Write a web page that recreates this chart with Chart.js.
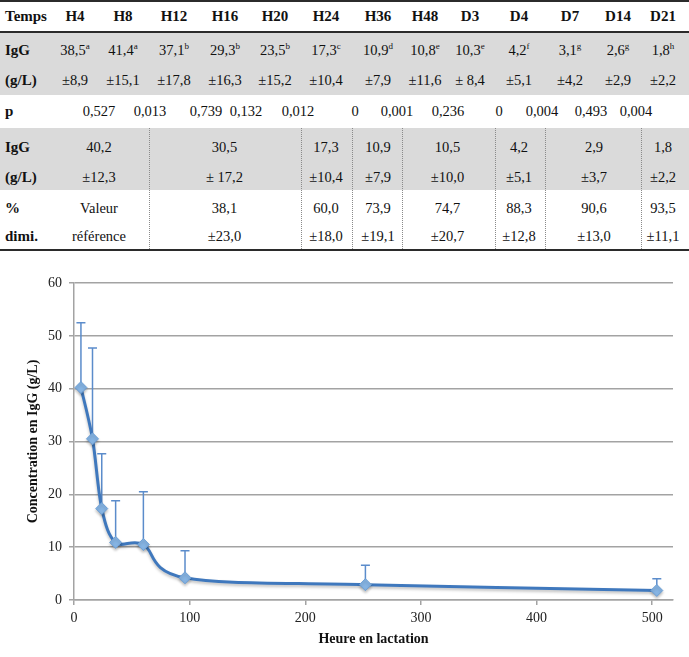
<!DOCTYPE html>
<html>
<head>
<meta charset="utf-8">
<script src="https://cdn.jsdelivr.net/npm/chart.js@4/dist/chart.umd.min.js"></script>
<style>
  body { margin: 0; background: #fff; }
  #page { position: relative; width: 689px; height: 657px; overflow: hidden; }
  #table { position: absolute; left: 0; top: 0; width: 689px; height: 255px;
           font-family: "Liberation Serif", serif; font-size: 15px; color: #111; }
  .cell { position: absolute; width: 90px; text-align: center; line-height: 18px; white-space: nowrap; font-size: 14.5px; }
  .lab { position: absolute; left: 5px; font-weight: bold; line-height: 18px; }
  .band { position: absolute; left: 0; width: 689px; background: #dadada; }
  .rule { position: absolute; left: 0; width: 689px; background: #2b2b2b; }
  .dots { position: absolute; width: 0; border-left: 1px dotted #8a8a8a; }
  sup { font-size: 9px; line-height: 0; }
  #chartBox { position: absolute; left: 0; top: 262px; width: 689px; height: 395px; }
</style>
</head>
<body>
<div id="page">
  <div id="table"></div>
  <div id="chartBox"><canvas id="myChart"></canvas></div>
</div>
<script>
// table block
const times = ['H4', 'H8', 'H12', 'H16', 'H20', 'H24', 'H36', 'H48', 'D3', 'D4', 'D7', 'D14', 'D21'];
const iggMean = ['38,5', '41,4', '37,1', '29,3', '23,5', '17,3', '10,9', '10,8', '10,3', '4,2', '3,1', '2,6', '1,8'];
const iggLetters = ['a', 'a', 'b', 'b', 'b', 'c', 'd', 'e', 'e', 'f', 'g', 'g', 'h'];
const iggSd = ['±8,9', '±15,1', '±17,8', '±16,3', '±15,2', '±10,4', '±7,9', '±11,6', '± 8,4', '±5,1', '±4,2', '±2,9', '±2,2'];
const pValues = ['0,527', '0,013', '0,739', '0,132', '0,012', '0', '0,001', '0,236', '0', '0,004', '0,493', '0,004'];

// grouped rows (first and last column index of each group)
const groupSpan = [[0, 1], [2, 4], [5, 5], [6, 6], [7, 8], [9, 9], [10, 11], [12, 12]];
const groupMean = ['40,2', '30,5', '17,3', '10,9', '10,5', '4,2', '2,9', '1,8'];
const groupSd = ['±12,3', '± 17,2', '±10,4', '±7,9', '±10,0', '±5,1', '±3,7', '±2,2'];
const groupDrop = ['Valeur', '38,1', '60,0', '73,9', '74,7', '88,3', '90,6', '93,5'];
const groupDropSd = ['référence', '±23,0', '±18,0', '±19,1', '±20,7', '±12,8', '±13,0', '±11,1'];

// chart block
const hours = [6, 16, 24, 36, 60, 96, 252, 504];
const meanIgG = [40.2, 30.5, 17.3, 10.9, 10.5, 4.2, 2.9, 1.8];
const sdIgG = [12.3, 17.2, 10.4, 7.9, 10.0, 5.1, 3.7, 2.2];

const colX = [75, 123, 174, 225, 275, 326, 378, 425, 470, 519, 570, 618, 663];
const pX = [99, 150, 206, 246, 298, 355, 397, 448, 499, 542, 591, 636];
const rowY = { head: 16, igg: 50, gl: 80, p: 111, igg2: 147, gl2: 177, pct: 208, dimi: 236 };

const table = document.getElementById('table');

const addEl = (cls, css, html) => {
    const d = document.createElement('div');
    d.className = cls;
    Object.assign(d.style, css);
    if (html !== undefined) d.innerHTML = html;
    table.appendChild(d);
    return d;
};

// background bands and rules
addEl('band', { top: '33px', height: '62px' });
addEl('band', { top: '128px', height: '62px' });
addEl('rule', { top: '0px', height: '2px' });
addEl('rule', { top: '31px', height: '2px' });
addEl('rule', { top: '249px', height: '2px' });

const cellAt = (x, y, html, bold) => {
    const c = addEl('cell', { left: (x - 45) + 'px', top: (y - 9) + 'px' }, html);
    if (bold) { c.style.fontWeight = 'bold'; c.style.fontSize = '15px'; }
};
const labelAt = (y, text) => addEl('lab', { top: (y - 9) + 'px' }, text);

labelAt(rowY.head, 'Temps');
labelAt(rowY.igg, 'IgG');
labelAt(rowY.gl, '(g/L)');
labelAt(rowY.p, 'p');
labelAt(rowY.igg2, 'IgG');
labelAt(rowY.gl2, '(g/L)');
labelAt(rowY.pct, '%');
labelAt(rowY.dimi, 'dimi.');

times.forEach((t, i) => {
    cellAt(colX[i], rowY.head, t, true);
    cellAt(colX[i], rowY.igg, iggMean[i] + '<sup>' + iggLetters[i] + '</sup>');
    cellAt(colX[i], rowY.gl, iggSd[i]);
});

pValues.forEach((p, i) => cellAt(pX[i], rowY.p, p));

groupSpan.forEach(([a, b], i) => {
    const cx = (colX[a] + colX[b]) / 2;
    cellAt(cx, rowY.igg2, groupMean[i]);
    cellAt(cx, rowY.gl2, groupSd[i]);
    cellAt(cx, rowY.pct, groupDrop[i]);
    cellAt(cx, rowY.dimi, groupDropSd[i]);
    if (i > 0) {
        const lx = Math.round((colX[a - 1] + colX[a]) / 2);
        addEl('dots', { left: lx + 'px', top: '128px', height: '121px' });
    }
});

// error bars plugin (upper bars only)
const errorBars = {
    id: 'errorBars',
    beforeDatasetsDraw(chart) {
        const { ctx, scales: { x, y } } = chart;
        ctx.save();
        ctx.strokeStyle = '#5b8ccb';
        ctx.lineWidth = 1.5;
        hours.forEach((h, i) => {
            const px = x.getPixelForValue(h);
            const y0 = y.getPixelForValue(meanIgG[i]);
            const y1 = y.getPixelForValue(meanIgG[i] + sdIgG[i]);
            ctx.beginPath();
            ctx.moveTo(px, y0);
            ctx.lineTo(px, y1);
            ctx.moveTo(px - 4.5, y1);
            ctx.lineTo(px + 4.5, y1);
            ctx.stroke();
        });
        ctx.restore();
    }
};

// spreadsheet-style smoothing: control points at 1/6 of the neighbour chord
const smoothLine = {
    id: 'smoothLine',
    beforeDatasetDraw(chart, args) {
        const meta = args.meta;
        const pts = meta.data;
        pts.forEach((cur, i) => {
            const prev = pts[Math.max(i - 1, 0)];
            const next = pts[Math.min(i + 1, pts.length - 1)];
            const dx = (next.x - prev.x) / 6;
            const dy = (next.y - prev.y) / 6;
            cur.cp1x = cur.x - dx;
            cur.cp1y = cur.y - dy;
            cur.cp2x = cur.x + dx;
            cur.cp2y = cur.y + dy;
        });
        meta.dataset._pointsUpdated = true;
        meta.dataset._path = undefined;
    }
};

const shadow = {
    id: 'shadow',
    beforeDatasetDraw(chart) {
        const ctx = chart.ctx;
        ctx.save();
        ctx.shadowColor = 'rgba(0, 0, 0, 0.25)';
        ctx.shadowBlur = 3;
        ctx.shadowOffsetY = 2;
    },
    afterDatasetDraw(chart) {
        chart.ctx.restore();
    }
};

const gridGrey = '#a3a3a3';
const tickFont = { family: 'Liberation Serif', size: 14 };
const titleFont = { family: 'Liberation Serif', size: 14, weight: 'bold' };

const config = {
    type: 'line',
    data: {
        datasets: [{
            label: 'IgG',
            data: hours.map((h, i) => ({ x: h, y: meanIgG[i] })),
            borderColor: '#3f78bd',
            borderWidth: 3,
            tension: 0.4,
            pointStyle: 'rectRot',
            pointRadius: 6,
            pointBackgroundColor: '#86b4e3',
            pointBorderColor: '#6c9fd6',
            pointBorderWidth: 1
        }]
    },
    options: {
        responsive: true,
        maintainAspectRatio: false,
        animation: false,
        layout: { padding: { top: 21, right: 16, left: 0, bottom: 0 } },
        plugins: {
            legend: { display: false },
            tooltip: { enabled: false }
        },
        scales: {
            x: {
                type: 'linear',
                min: 0,
                max: 518,
                afterFit: scale => { scale.height = 57; },
                ticks: { stepSize: 100, includeBounds: false, padding: 5, color: '#222', font: tickFont },
                grid: { drawOnChartArea: false, drawTicks: true, tickLength: 5, color: gridGrey, lineWidth: 1.5 },
                border: { color: gridGrey, width: 1.5 },
                title: { display: true, text: 'Heure en lactation', color: '#111', font: titleFont, padding: { top: 0, bottom: 9 } }
            },
            y: {
                min: 0,
                max: 60,
                afterFit: scale => { scale.width = 74; },
                ticks: { stepSize: 10, padding: 7, color: '#222', font: tickFont },
                grid: { color: gridGrey, lineWidth: 1.5, tickLength: 5 },
                border: { color: gridGrey, width: 1.5 },
                title: { display: true, text: 'Concentration en IgG (g/L)', color: '#111', font: titleFont, padding: { top: 25, bottom: 0 } }
            }
        }
    },
    plugins: [errorBars, smoothLine, shadow]
};

const myChart = new Chart(document.getElementById('myChart'), config);
</script>
</body>
</html>
